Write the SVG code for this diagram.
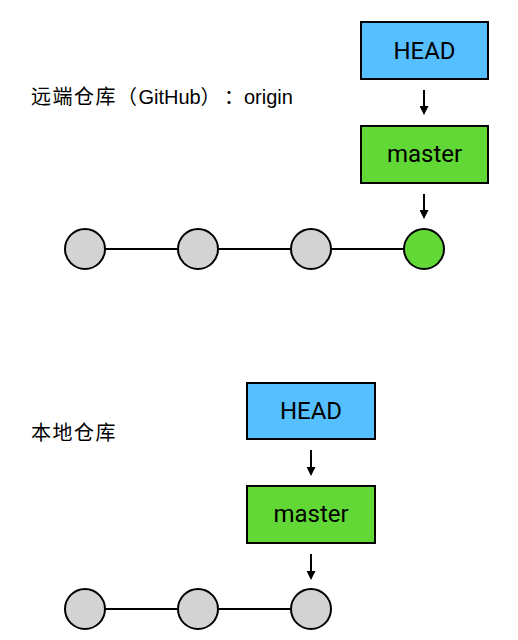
<svg xmlns="http://www.w3.org/2000/svg" width="518" height="640" viewBox="0 0 518 640">
<style>
.lbl{font-family:"Liberation Sans","Noto Sans CJK SC",sans-serif;font-size:20px;fill:#000}
.cjk{letter-spacing:1.5px}
.box text{font-family:Roboto,"Liberation Sans",sans-serif;font-size:24px;fill:#000;text-anchor:middle}
.head{fill:#55BFFF;stroke:#000;stroke-width:2}
.br{fill:#62D836;stroke:#000;stroke-width:2}
.c{fill:#D3D3D3;stroke:#000;stroke-width:2}
.cg{fill:#62D836;stroke:#000;stroke-width:2}
.ln{stroke:#000;stroke-width:2;fill:none}
.ar{stroke:#000;stroke-width:2;fill:none}
</style>
<defs>
<marker id="ah" viewBox="0 0 10 10" refX="8" refY="5" markerWidth="9" markerHeight="9" orient="auto" markerUnits="userSpaceOnUse">
<path d="M0,0 L10,5 L0,10 z" fill="#000"/>
</marker>
</defs>
<rect width="518" height="640" fill="#fff"/>
<text class="lbl" y="104"><tspan class="cjk" x="31">远端仓库（</tspan><tspan x="138.5">GitHub</tspan><tspan x="200.5">）</tspan><tspan x="224">：origin</tspan></text>
<text class="lbl cjk" x="31" y="440">本地仓库</text>
<g id="connectors">
<line class="ln" x1="85" y1="249" x2="424" y2="249"/>
<line class="ln" x1="85" y1="609" x2="311" y2="609"/>
<line class="ar" x1="424" y1="90" x2="424" y2="113.2" marker-end="url(#ah)"/>
<line class="ar" x1="424" y1="194" x2="424" y2="217.2" marker-end="url(#ah)"/>
<line class="ar" x1="311" y1="450" x2="311" y2="474.2" marker-end="url(#ah)"/>
<line class="ar" x1="311" y1="554" x2="311" y2="578.2" marker-end="url(#ah)"/>
</g>
<g id="r-head" class="box"><rect class="head" x="361" y="22" width="127" height="57"/><text x="424.5" y="58.5">HEAD</text></g>
<g id="r-master" class="box"><rect class="br" x="361" y="126" width="127" height="57"/><text x="424.5" y="162">master</text></g>
<g id="r-c1"><circle class="c" cx="85" cy="249" r="20"/></g>
<g id="r-c2"><circle class="c" cx="198" cy="249" r="20"/></g>
<g id="r-c3"><circle class="c" cx="311" cy="249" r="20"/></g>
<g id="r-c4"><circle class="cg" cx="424" cy="249" r="20"/></g>
<g id="l-head" class="box"><rect class="head" x="247" y="383" width="128" height="56"/><text x="311" y="419">HEAD</text></g>
<g id="l-master" class="box"><rect class="br" x="247" y="486" width="128" height="57"/><text x="311" y="522">master</text></g>
<g id="l-c1"><circle class="c" cx="85" cy="609" r="20"/></g>
<g id="l-c2"><circle class="c" cx="198" cy="609" r="20"/></g>
<g id="l-c3"><circle class="c" cx="311" cy="609" r="20"/></g>
</svg>
